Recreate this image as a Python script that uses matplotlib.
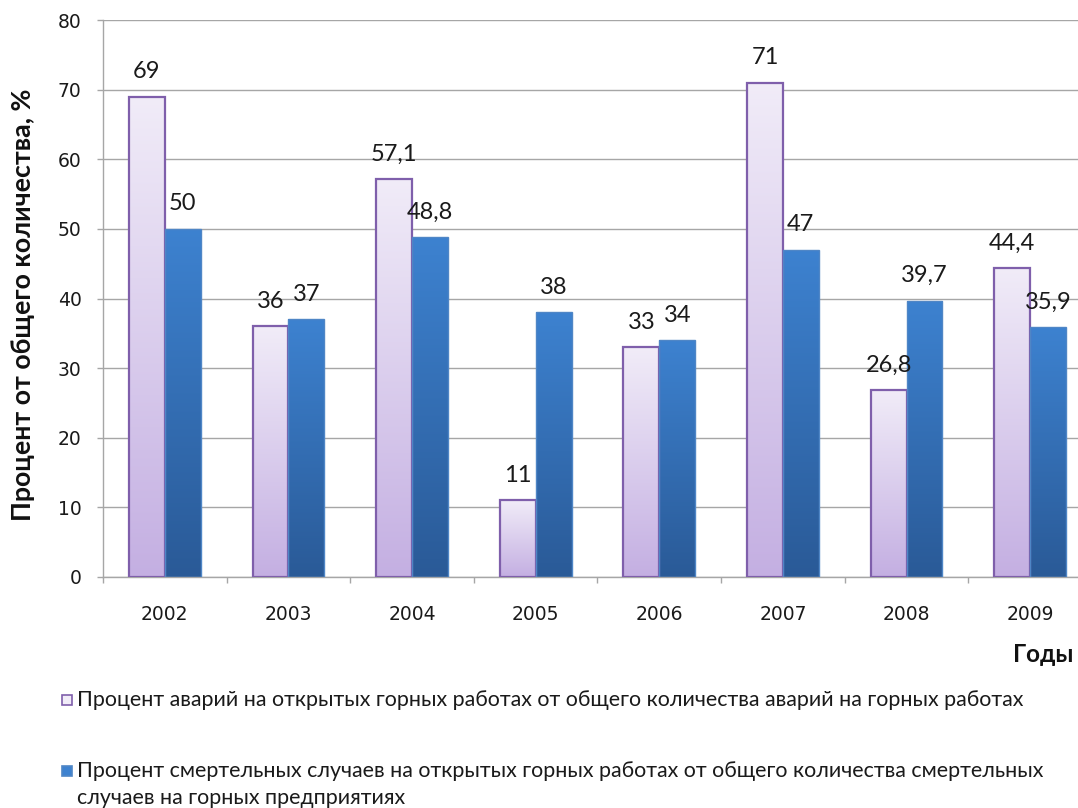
import matplotlib
matplotlib.use("Agg")
import matplotlib.pyplot as plt
import numpy as np
from matplotlib.colors import LinearSegmentedColormap
from matplotlib.patches import Rectangle

# --- data -------------------------------------------------------------------
years = ["2002", "2003", "2004", "2005", "2006", "2007", "2008", "2009"]
accidents_pct = [69, 36, 57.1, 11, 33, 71, 26.8, 44.4]
fatal_pct = [50, 37, 48.8, 38, 34, 47, 39.7, 35.9]
y_ticks = [0, 10, 20, 30, 40, 50, 60, 70, 80]
series_labels = [
    "Процент аварий на открытых горных работах от общего количества аварий на горных работах",
    "Процент смертельных случаев на открытых горных работах от общего количества смертельных\n"
    "случаев на горных предприятиях",
]
y_title = "Процент от общего количества, %"
x_title = "Годы"

# --- style ------------------------------------------------------------------
TEXT_FONT = ["Lato", "DejaVu Sans"]
TICK_FONT = ["DejaVu Sans"]
GRID = "#a6a6a6"
LIGHT_TOP, LIGHT_BOT, LIGHT_EDGE = "#f1ecf8", "#c4afe2", "#7f5fab"
BLUE_TOP, BLUE_BOT, BLUE_EDGE = "#3d82d0", "#2a5a97", "#4f86c6"
BAR_W = 0.29


def fmt(v):
    return f"{v:g}".replace(".", ",")


def gradient_fill(ax, bars, top, bottom):
    """Paint a vertical gradient inside each bar, clipped to the bar shape."""
    cmap = LinearSegmentedColormap.from_list("grad", [bottom, top])
    grad = np.linspace(0, 1, 256).reshape(-1, 1)
    for b in bars:
        x0, w, h = b.get_x(), b.get_width(), b.get_height()
        im = ax.imshow(grad, cmap=cmap, origin="lower", aspect="auto",
                       extent=[x0, x0 + w, 0, h], zorder=2.5,
                       interpolation="bilinear")
        im.set_clip_path(b)


W, H = 1078, 808
fig = plt.figure(figsize=(W / 100, H / 100), dpi=100)
ax = fig.add_axes([103 / W, 1 - 577 / H, 989 / W, 557 / H])

x = np.arange(len(years))
b1 = ax.bar(x - BAR_W / 2, accidents_pct, BAR_W, facecolor="none",
            edgecolor=LIGHT_EDGE, linewidth=1.6, zorder=3)
b2 = ax.bar(x + BAR_W / 2, fatal_pct, BAR_W, facecolor="none",
            edgecolor=BLUE_EDGE, linewidth=1.0, zorder=3)
gradient_fill(ax, b1, LIGHT_TOP, LIGHT_BOT)
gradient_fill(ax, b2, BLUE_TOP, BLUE_BOT)

for bars, vals in ((b1, accidents_pct), (b2, fatal_pct)):
    for b, v in zip(bars, vals):
        ax.annotate(fmt(v), (b.get_x() + b.get_width() / 2, v),
                    xytext=(0, 18), textcoords="offset points",
                    ha="center", va="center", fontsize=17,
                    family=TEXT_FONT, color="#1a1a1a", zorder=5)

ax.set_xlim(-0.5, len(years) - 0.5)
ax.set_ylim(0, 80)
ax.set_yticks(y_ticks)
ax.set_xticks(x, labels=years)
ax.set_xticks(np.arange(-0.5, len(years), 1), minor=True)
ax.tick_params(axis="x", which="major", length=0, pad=20, labelsize=13.5,
               labelcolor="#1a1a1a")
ax.tick_params(axis="x", which="minor", length=4.5, width=1, color=GRID)
ax.tick_params(axis="y", length=4.5, width=1, color=GRID, pad=11,
               labelsize=13.5, labelcolor="#1a1a1a")
for lab in ax.get_xticklabels() + ax.get_yticklabels():
    lab.set_family(TICK_FONT)

ax.grid(axis="y", color=GRID, linewidth=1)
ax.set_axisbelow(True)
for side in ("top", "right"):
    ax.spines[side].set_visible(False)
for side in ("left", "bottom"):
    ax.spines[side].set_color(GRID)
    ax.spines[side].set_linewidth(1)

fig.text(23 / W, 1 - 305 / H, y_title, rotation=90, ha="center", va="center",
         fontsize=19.3, fontweight="bold", family=TEXT_FONT, color="#111111")
fig.text(1073 / W, 1 - 655 / H, x_title, ha="right", va="center",
         fontsize=17.5, fontweight="bold", family=TEXT_FONT, color="#111111")

# legend drawn by hand: swatch + text, second entry wraps to two lines
legend_rows = [(700, [700]), (771, [771, 798])]
swatches = [(LIGHT_TOP, LIGHT_EDGE), (BLUE_TOP, BLUE_EDGE)]
for (sy, line_ys), label, (fc, ec) in zip(legend_rows, series_labels, swatches):
    fig.patches.append(Rectangle((62 / W, 1 - (sy + 5) / H), 10 / W, 10 / H,
                                 transform=fig.transFigure, facecolor=fc,
                                 edgecolor=ec, linewidth=1.2))
    for ly, line in zip(line_ys, label.split("\n")):
        fig.text(77 / W, 1 - ly / H, line, ha="left", va="center",
                 fontsize=15.4, family=TEXT_FONT, color="#1a1a1a")

fig.savefig("out.png", dpi=100)
